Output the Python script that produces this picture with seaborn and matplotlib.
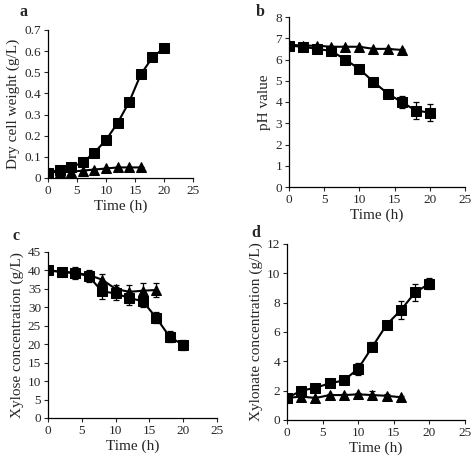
import matplotlib
matplotlib.use("Agg")
import matplotlib.pyplot as plt
import seaborn as sns
import pandas as pd
import numpy as np

sns.set_style("ticks")
plt.rcParams['font.family'] = ['Liberation Serif', 'DejaVu Serif']

time_sq = [0, 2, 4, 6, 8, 10, 12, 14, 16, 18, 20]
time_tr = [0, 2, 4, 6, 8, 10, 12, 14, 16]

dcw_sq = [0.025, 0.04, 0.05, 0.075, 0.12, 0.18, 0.26, 0.36, 0.49, 0.57, 0.615]
dcw_sq_err = [0.005, 0.005, 0.005, 0.005, 0.005, 0.005, 0.005, 0.005, 0.015, 0.012, 0.006]
dcw_tr = [0.025, 0.03, 0.03, 0.035, 0.04, 0.045, 0.05, 0.05, 0.05]
dcw_tr_err = [0.003] * 9

ph_sq = [6.65, 6.6, 6.5, 6.4, 6.0, 5.55, 4.95, 4.4, 4.0, 3.6, 3.5]
ph_sq_err = [0.1, 0.1, 0.1, 0.1, 0.1, 0.1, 0.1, 0.15, 0.3, 0.4, 0.4]
ph_tr = [6.7, 6.65, 6.65, 6.6, 6.6, 6.6, 6.5, 6.5, 6.45]
ph_tr_err = [0.05] * 9

xyl_sq = [40, 39.6, 39.3, 38.5, 34.3, 33.8, 32.5, 31.7, 27.2, 22, 19.8]
xyl_sq_err = [1.0, 1.0, 1.5, 1.5, 2.0, 1.8, 1.8, 1.5, 1.5, 1.5, 1.3]
xyl_tr = [40, 39.7, 39.3, 38.8, 37.5, 35.0, 34.2, 34.5, 34.7]
xyl_tr_err = [0.5, 0.5, 1.0, 1.0, 1.5, 1.0, 1.8, 2.0, 2.0]

xya_sq = [1.5, 2.0, 2.2, 2.5, 2.7, 3.5, 5.0, 6.5, 7.5, 8.7, 9.3]
xya_sq_err = [0.15, 0.15, 0.15, 0.15, 0.15, 0.4, 0.3, 0.2, 0.6, 0.6, 0.4]
xya_tr = [1.5, 1.6, 1.5, 1.7, 1.7, 1.75, 1.7, 1.65, 1.55]
xya_tr_err = [0.1, 0.1, 0.1, 0.1, 0.1, 0.1, 0.3, 0.1, 0.1]

panels = [
    ("a", "Dry cell weight (g/L)", dcw_sq, dcw_sq_err, dcw_tr, dcw_tr_err, 0.7, 0.1,
     [48, 30, 193, 178], (19, 12)),
    ("b", "pH value", ph_sq, ph_sq_err, ph_tr, ph_tr_err, 8, 1,
     [289, 17, 465, 187], (256, 12)),
    ("c", "Xylose concentration (g/L)", xyl_sq, xyl_sq_err, xyl_tr, xyl_tr_err, 45, 5,
     [48, 252, 217, 418], (12, 236)),
    ("d", "Xylonate concentration (g/L)", xya_sq, xya_sq_err, xya_tr, xya_tr_err, 12, 2,
     [287, 244, 465, 420], (251, 233)),
]

W, H = 473, 457
fig = plt.figure(figsize=(W / 100, H / 100), dpi=100)

for letter, ylabel, sq, sqe, tr, tre, ymax, ystep, box, lab in panels:
    x0, y0, x1, y1 = box
    ax = fig.add_axes([x0 / W, 1 - y1 / H, (x1 - x0) / W, (y1 - y0) / H])
    df_sq = pd.DataFrame({"Time": time_sq, "val": sq})
    df_tr = pd.DataFrame({"Time": time_tr, "val": tr})
    ax.errorbar(time_sq, sq, yerr=sqe, fmt="none", ecolor="black", elinewidth=0.9,
                capsize=2, capthick=0.9, zorder=2)
    ax.errorbar(time_tr, tr, yerr=tre, fmt="none", ecolor="black", elinewidth=0.9,
                capsize=2, capthick=0.9, zorder=2)
    sns.lineplot(data=df_tr, x="Time", y="val", ax=ax, color="black", marker="^",
                 markersize=7, markeredgecolor="black", linewidth=1.5, zorder=3)
    sns.lineplot(data=df_sq, x="Time", y="val", ax=ax, color="black", marker="s",
                 markersize=6.5, markeredgecolor="black", linewidth=1.5, zorder=4)
    ax.set_xlim(0, 25)
    ax.set_ylim(0, ymax)
    ax.set_xticks([0, 5, 10, 15, 20, 25])
    ax.set_yticks(np.arange(0, ymax + ystep / 2, ystep))
    if letter == "a":
        ax.set_yticklabels(["0"] + [f"{v:.1f}" for v in np.arange(ystep, ymax + ystep / 2, ystep)])
    ax.set_xlabel("Time (h)", fontsize=11, labelpad=2)
    ax.set_ylabel(ylabel, fontsize=11, labelpad=3)
    ax.tick_params(labelsize=9.5, length=3, width=0.8, pad=2, direction="out")
    for s in ["left", "bottom"]:
        ax.spines[s].set_linewidth(0.9)
        ax.spines[s].set_color("black")
    sns.despine(ax=ax)
    fig.text(lab[0] / W, 1 - lab[1] / H, letter, fontsize=11.5, fontweight="bold",
             ha="left", va="center")

fig.savefig("out.png", dpi=100)
